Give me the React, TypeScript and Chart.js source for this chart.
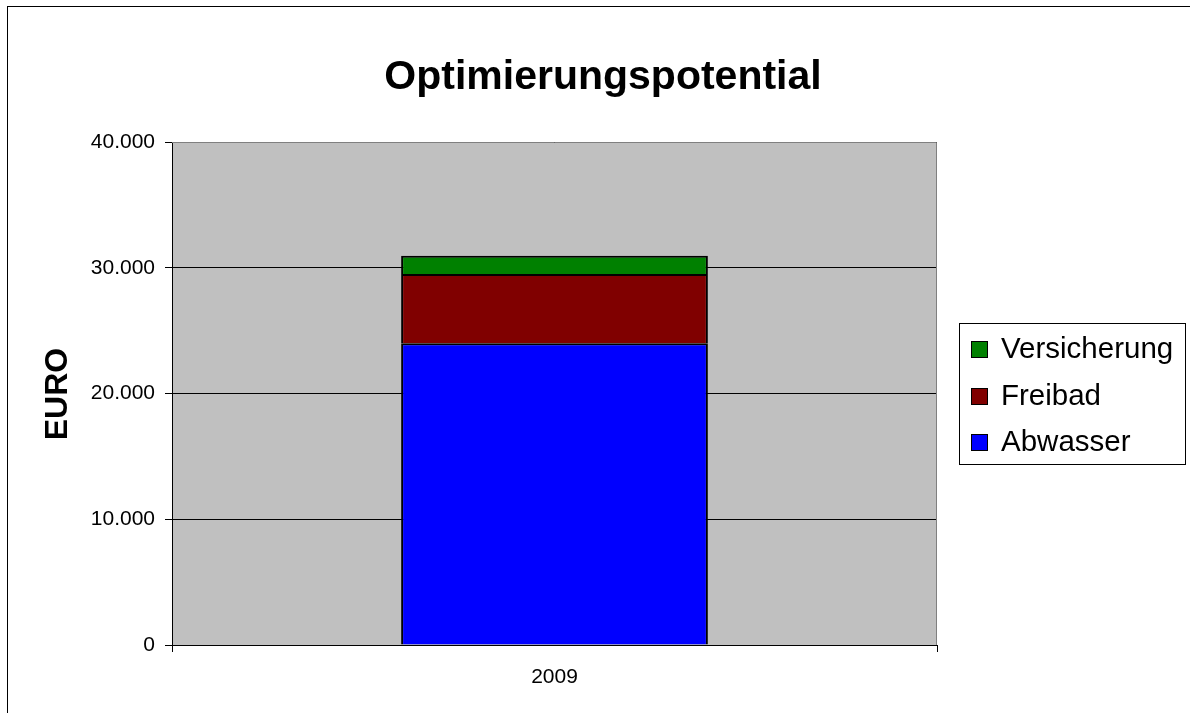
import React, { useEffect, useRef } from "react";
import { Chart, registerables } from "chart.js";

Chart.register(...registerables);

const categories = ["2009"];
const seriesNames = ["Abwasser", "Freibad", "Versicherung"];
const abwasser = [24000];
const freibad = [5500];
const versicherung = [1450];
const seriesColors = ["#0000FF", "#800000", "#008000"];
const yTicks = [0, 10000, 20000, 30000, 40000];
const titleText = "Optimierungspotential";
const yTitleText = "EURO";

const FONT = "'Liberation Sans', Arial, Helvetica, sans-serif";

function fmt(v: number): string {
  const s = Math.round(v).toString();
  return s.replace(/\B(?=(\d{3})+(?!\d))/g, ".");
}

const decorPlugin = {
  id: "decor",
  beforeDraw(chart: any) {
    const { ctx, chartArea } = chart;
    ctx.save();
    ctx.fillStyle = "#FFFFFF";
    ctx.fillRect(0, 0, chart.width, chart.height);
    ctx.strokeStyle = "#000000";
    ctx.lineWidth = 1;
    ctx.strokeRect(7.5, 6.5, 1300, 800);
    ctx.fillStyle = "#C0C0C0";
    ctx.fillRect(chartArea.left, chartArea.top, chartArea.right - chartArea.left, chartArea.bottom - chartArea.top);
    ctx.restore();
  },
  beforeDatasetsDraw(chart: any) {
    const { ctx, chartArea } = chart;
    ctx.save();
    ctx.strokeStyle = "#808080";
    ctx.lineWidth = 1;
    ctx.beginPath();
    ctx.moveTo(chartArea.left, chartArea.top + 0.5);
    ctx.lineTo(chartArea.right - 0.5, chartArea.top + 0.5);
    ctx.lineTo(chartArea.right - 0.5, chartArea.bottom);
    ctx.stroke();
    ctx.restore();
  },
  afterDraw(chart: any) {
    const { ctx } = chart;
    ctx.save();
    ctx.fillStyle = "#000000";
    ctx.font = `bold 41px ${FONT}`;
    ctx.textAlign = "center";
    ctx.textBaseline = "alphabetic";
    ctx.fillText(titleText, 603, 89);
    ctx.save();
    ctx.font = `bold 32px ${FONT}`;
    ctx.translate(67, 394);
    ctx.rotate(-Math.PI / 2);
    ctx.textAlign = "center";
    ctx.fillText(yTitleText, 0, 0);
    ctx.restore();
    const bx = 959.5, by = 323.5, bw = 226, bh = 141;
    ctx.fillStyle = "#FFFFFF";
    ctx.fillRect(bx, by, bw, bh);
    ctx.strokeStyle = "#000000";
    ctx.lineWidth = 1;
    ctx.strokeRect(bx, by, bw, bh);
    const ds = chart.data.datasets.slice().reverse();
    const rows = [349, 396, 442];
    ctx.font = `29.5px ${FONT}`;
    ctx.textAlign = "left";
    ctx.textBaseline = "middle";
    ds.forEach((d: any, i: number) => {
      const cy = rows[i];
      ctx.fillStyle = d.backgroundColor;
      ctx.fillRect(971, cy - 8, 17, 17);
      ctx.strokeStyle = "#000000";
      ctx.strokeRect(971.5, cy - 7.5, 16, 16);
      ctx.fillStyle = "#000000";
      ctx.fillText(d.label, 1001, cy + 1);
    });
    ctx.restore();
  },
};

export default function App() {
  const ref = useRef<HTMLCanvasElement | null>(null);
  useEffect(() => {
    if (!ref.current) return;
    const values = [abwasser, freibad, versicherung];
    const chart = new Chart(ref.current, {
      type: "bar",
      data: {
        labels: categories,
        datasets: seriesNames.map((name, i) => ({
          label: name,
          data: values[i],
          backgroundColor: seriesColors[i],
          borderColor: "#000000",
          borderSkipped: false,
          borderWidth: { top: 2, left: 2, right: 2, bottom: 0 },
          inflateAmount: 0,
          categoryPercentage: 1,
          barPercentage: 0.401,
        })),
      },
      options: {
        animation: false,
        responsive: false,
        devicePixelRatio: 1,
        layout: { padding: { left: 0, top: 142, right: 253, bottom: 18 } },
        plugins: {
          legend: { display: false },
          title: { display: false },
          tooltip: { enabled: false },
        },
        scales: {
          x: {
            stacked: true,
            offset: true,
            grid: {
              offset: true,
              drawOnChartArea: false,
              color: "#000000",
              tickLength: 7,
            },
            border: { color: "#000000", width: 1 },
            ticks: {
              color: "#000000",
              font: { family: FONT, size: 21 },
              padding: 13,
            },
            afterFit: (s: any) => {
              s.height = 50;
            },
          },
          y: {
            stacked: true,
            min: 0,
            max: 40000,
            afterBuildTicks: (s: any) => {
              s.ticks = yTicks.map((v) => ({ value: v }));
            },
            grid: { color: "#000000", tickLength: 7 },
            border: { color: "#000000", width: 1 },
            ticks: {
              color: "#000000",
              font: { family: FONT, size: 21 },
              padding: 10,
              callback: (v: any) => fmt(Number(v)),
            },
            afterFit: (s: any) => {
              s.width = 172;
            },
          },
        },
      },
      plugins: [decorPlugin],
    });
    return () => chart.destroy();
  }, []);
  return (
    <canvas
      ref={ref}
      width={1190}
      height={713}
      style={{ position: "fixed", left: 0, top: 0, width: 1190, height: 713 }}
    />
  );
}
